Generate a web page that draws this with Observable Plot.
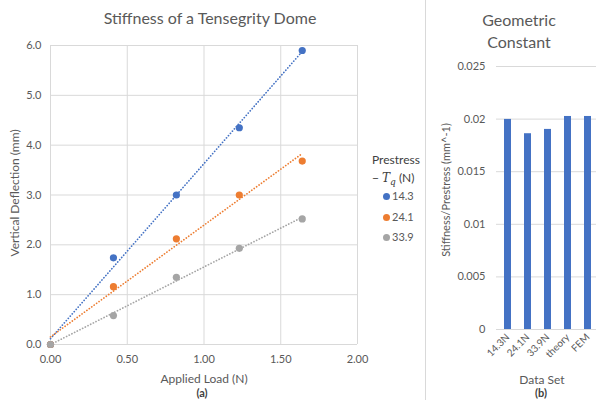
<!DOCTYPE html>
<html><head><meta charset="utf-8">
<script src="https://cdn.jsdelivr.net/npm/d3@7"></script>
<script src="https://cdn.jsdelivr.net/npm/@observablehq/plot@0.6"></script>
<style>
body{margin:0;background:#fff;}
#wrap{position:relative;width:596px;height:402px;overflow:hidden;font-family:Lato,sans-serif;color:#595959;background:#fff;}
.lbl{position:absolute;white-space:nowrap;transform:translate(-50%,-50%);line-height:1;}
.rot{transform:translate(-50%,-50%) rotate(-90deg);}
.plot{position:absolute;top:0;}
#divider{position:absolute;left:425px;top:0;width:1px;height:400px;background:#D9D9D9;}
.leg{position:absolute;font-size:11px;line-height:1;white-space:nowrap;}
.leg span.dot{display:inline-block;width:7px;height:7px;border-radius:50%;margin-right:2px;vertical-align:0px;}
</style></head><body><div id="wrap"></div>
<script>
// ---- Chart (a) data ----
const loads = [0, 0.41, 0.82, 1.23, 1.64];
const defl143 = [0, 1.74, 3.0, 4.35, 5.9];
const defl241 = [0, 1.16, 2.12, 3.0, 3.68];
const defl339 = [0, 0.58, 1.35, 1.93, 2.52];
const prestress = ["14.3", "24.1", "33.9"];
const seriesColors = ["#4472C4", "#ED7D31", "#A5A5A5"];
const xTicksA = [0, 0.5, 1, 1.5, 2];
const yTicksA = [0, 1, 2, 3, 4, 5, 6];
// ---- Chart (b) data ----
const dataSets = ["14.3N", "24.1N", "33.9N", "theory", "FEM"];
const ratios = [0.01997, 0.01861, 0.01902, 0.02025, 0.02025];
const yTicksB = [0, 0.005, 0.01, 0.015, 0.02, 0.025];

const wrap = document.getElementById("wrap");
const series = [defl143, defl241, defl339];
const points = [];
series.forEach((arr, i) => arr.forEach((d, j) => points.push({load: loads[j], defl: d, series: prestress[i]})));

const grid = "#D9D9D9";
const plotA = Plot.plot({
  width: 370, height: 402,
  marginLeft: 50, marginRight: 13, marginTop: 45, marginBottom: 58,
  style: {fontFamily: "Lato, sans-serif", fontSize: "11px", color: "#595959", background: "transparent"},
  x: {domain: [0, 2], label: null},
  y: {domain: [0, 6], label: null},
  color: {domain: prestress, range: seriesColors},
  marks: [
    Plot.gridX(xTicksA, {stroke: grid, strokeOpacity: 1}),
    Plot.gridY(yTicksA, {stroke: grid, strokeOpacity: 1}),
    Plot.axisX(xTicksA, {tickSize: 0, tickPadding: 11, tickFormat: d3.format(".2f"), label: null}),
    Plot.axisY(yTicksA, {tickSize: 0, tickPadding: 9, tickFormat: d3.format(".1f"), label: null}),
    Plot.linearRegressionY(points, {x: "load", y: "defl", stroke: "series", ci: 0, strokeWidth: 1.7, strokeDasharray: "0.1 2.9", strokeLinecap: "round"}),
    Plot.dot(points, {x: "load", y: "defl", fill: "series", r: 3.6})
  ]
});
plotA.classList.add("plot");
plotA.style.left = "0px";
wrap.appendChild(plotA);

const barData = dataSets.map((k, i) => ({set: k, value: ratios[i]}));
const plotB = Plot.plot({
  width: 172, height: 402,
  marginLeft: 70, marginRight: 0, marginTop: 66, marginBottom: 73,
  style: {fontFamily: "Lato, sans-serif", fontSize: "10px", color: "#595959", background: "transparent", overflow: "visible"},
  x: {domain: dataSets, paddingInner: 0.67, paddingOuter: 0.335, label: null},
  y: {domain: [0, 0.025], label: null},
  marks: [
    Plot.gridY(yTicksB, {stroke: grid, strokeOpacity: 1}),
    Plot.axisY(yTicksB, {tickSize: 0, tickPadding: 11, tickFormat: d => String(d), label: null, fontSize: 11}),
    Plot.axisX({tickSize: 0, tickPadding: 6, tickRotate: -45, label: null}),
    Plot.barY(barData, {x: "set", y: "value", fill: "#4472C4"})
  ]
});
plotB.classList.add("plot");
plotB.style.left = "426px";
wrap.appendChild(plotB);

function label(text, x, y, size, extra = "") {
  const d = document.createElement("div");
  d.className = "lbl" + (extra.includes("rot") ? " rot" : "");
  d.style.left = x + "px"; d.style.top = y + "px"; d.style.fontSize = size + "px";
  if (extra.includes("bold")) { d.style.fontWeight = "bold"; d.style.color = "#404040"; }
  d.innerHTML = text;
  wrap.appendChild(d);
}
const div = document.createElement("div"); div.id = "divider"; wrap.appendChild(div);

label("Stiffness of a Tensegrity Dome", 210, 18, 16);
label("Vertical Deflection (mm)", 15, 193, 12, "rot");
label("Applied Load (N)", 204, 379, 12);
label("(a)", 202, 392, 11, "bold");
label("Geometric", 519, 20, 16);
label("Constant", 519, 42, 16);
label("Stiffness/Prestress (mm^-1)", 445, 190, 11, "rot");
label("Data Set", 542, 380, 12);
label("(b)", 541, 392, 11, "bold");

// legend
const legT = document.createElement("div");
legT.className = "leg";
legT.style.left = "372px"; legT.style.top = "151px"; legT.style.fontSize = "12px"; legT.style.color = "#404040"; legT.style.lineHeight = "18px";
legT.innerHTML = 'Prestress<br>− <i style="font-family:\'DejaVu Serif\',serif;font-size:12px">T<sub style="font-size:9px">q</sub></i> (N)';
wrap.appendChild(legT);
prestress.forEach((p, i) => {
  const e = document.createElement("div");
  e.className = "leg";
  e.style.left = "383px"; e.style.top = (190 + i * 20.5) + "px";
  e.innerHTML = `<span class="dot" style="background:${seriesColors[i]}"></span>${p}`;
  wrap.appendChild(e);
});
</script></body></html>
